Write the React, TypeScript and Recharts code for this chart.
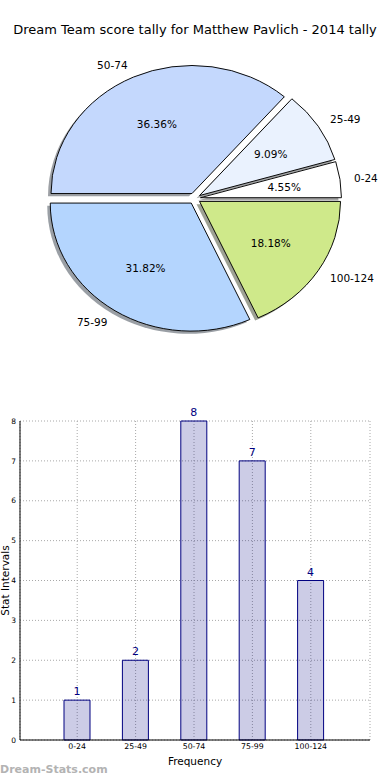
import {
  PieChart,
  Pie,
  Cell,
  BarChart,
  Bar,
  XAxis,
  YAxis,
  CartesianGrid,
  LabelList,
} from "recharts";

const categories = ["0-24", "25-49", "50-74", "75-99", "100-124"];
const counts = [1, 2, 8, 7, 4];
const sliceColors = ["#ffffff", "#eaf2fe", "#c4d8fd", "#b4d5fe", "#cfe98a"];
const yTicks = [0, 1, 2, 3, 4, 5, 6, 7, 8];

const FONT = "'DejaVu Sans', sans-serif";

// pie geometry (unscaled; the whole pie is squashed vertically like the matplotlib axes)
const SY = 0.908;
const CX = 194.5;
const CY = 218.6;
const R = 141;
const EXPLODE = 6;
const SHADOW = 3;

const total = counts.reduce((a, b) => a + b, 0);

const slices = (() => {
  let cum = 0;
  return categories.map((name, i) => {
    const start = (cum / total) * 360;
    cum += counts[i];
    const end = (cum / total) * 360;
    const mid = ((start + end) / 2) * (Math.PI / 180);
    return {
      name,
      value: counts[i],
      start,
      end,
      cx: CX + EXPLODE * Math.cos(mid),
      cy: CY - EXPLODE * Math.sin(mid),
      cos: Math.cos(mid),
      sin: Math.sin(mid),
    };
  });
})();

const barData = categories.map((c, i) => ({ name: c, count: counts[i] }));

function shade(hex: string) {
  const n = parseInt(hex.slice(1), 16);
  const r = Math.round(((n >> 16) & 255) * 0.3);
  const g = Math.round(((n >> 8) & 255) * 0.3);
  const b = Math.round((n & 255) * 0.3);
  return `rgb(${r},${g},${b})`;
}

function sliceLabel(i: number) {
  const s = slices[i];
  const lx = s.cx + 1.1 * R * s.cos;
  const ly = s.cy - 1.1 * R * s.sin;
  const px = s.cx + 0.6 * R * s.cos;
  const py = s.cy - 0.6 * R * s.sin;
  const pct = ((counts[i] / total) * 100).toFixed(2) + "%";
  return (
    <g>
      <g transform={`translate(${lx},${ly}) scale(1,${1 / SY})`}>
        <text
          x={0}
          y={0}
          textAnchor={s.cos > 0 ? "start" : "end"}
          dominantBaseline="central"
          fontSize={10.5}
          fontFamily={FONT}
          fill="#000"
        >
          {s.name}
        </text>
      </g>
      <g transform={`translate(${px},${py}) scale(1,${1 / SY})`}>
        <text
          x={0}
          y={0}
          textAnchor="middle"
          dominantBaseline="central"
          fontSize={10.5}
          fontFamily={FONT}
          fill="#000"
        >
          {pct}
        </text>
      </g>
    </g>
  );
}

export default function App() {
  return (
    <div
      style={{
        position: "absolute",
        left: 0,
        top: 0,
        width: 390,
        height: 780,
        background: "#fff",
        overflow: "hidden",
        fontFamily: FONT,
      }}
    >
      <div
        style={{
          position: "absolute",
          left: 0,
          top: 0,
          width: 390,
          height: 440,
          transform: `scaleY(${SY})`,
          transformOrigin: "0 0",
        }}
      >
        <PieChart width={390} height={440} margin={{ top: 0, right: 0, bottom: 0, left: 0 }}>
          {slices.map((s, i) => (
            <Pie
              key={"shadow-" + s.name}
              data={[s]}
              dataKey="value"
              cx={s.cx - SHADOW}
              cy={s.cy + SHADOW}
              outerRadius={R}
              startAngle={s.start}
              endAngle={s.end}
              stroke="none"
              isAnimationActive={false}
            >
              <Cell fill={shade(sliceColors[i])} fillOpacity={0.5} />
            </Pie>
          ))}
          {slices.map((s, i) => (
            <Pie
              key={s.name}
              data={[s]}
              dataKey="value"
              cx={s.cx}
              cy={s.cy}
              outerRadius={R}
              startAngle={s.start}
              endAngle={s.end}
              stroke="#000"
              strokeWidth={1}
              label={() => sliceLabel(i)}
              labelLine={false}
              isAnimationActive={false}
            >
              <Cell fill={sliceColors[i]} />
            </Pie>
          ))}
        </PieChart>
      </div>

      <div
        style={{
          position: "absolute",
          left: 0,
          top: 22,
          width: 390,
          textAlign: "center",
          fontSize: 13,
          lineHeight: "16px",
          color: "#000",
        }}
      >
        Dream Team score tally for Matthew Pavlich - 2014 tally
      </div>

      <div style={{ position: "absolute", left: 0, top: 400 }}>
        <BarChart
          width={390}
          height={380}
          data={barData}
          margin={{ top: 21, right: 20, bottom: 10, left: 0 }}
        >
          <CartesianGrid stroke="#a8a8a8" strokeDasharray="1 2" strokeWidth={1} />
          <XAxis
            dataKey="name"
            height={30}
            padding={{ left: 28, right: 30 }}
            tickLine={false}
            tickSize={0}
            tickMargin={3}
            axisLine={{ stroke: "#000" }}
            tick={{ fontSize: 7.8, fill: "#000", fontFamily: FONT }}
            label={{
              value: "Frequency",
              position: "insideBottom",
              offset: 5,
              fontSize: 10.5,
              fill: "#000",
              fontFamily: FONT,
            }}
          />
          <XAxis
            xAxisId="top"
            dataKey="name"
            orientation="top"
            height={0}
            padding={{ left: 28, right: 30 }}
            tick={false}
            tickLine={false}
            axisLine={{ stroke: "#000" }}
          />
          <YAxis
            width={20}
            domain={[0, 8]}
            ticks={yTicks}
            interval={0}
            tickLine={false}
            tickSize={0}
            tickMargin={4}
            axisLine={{ stroke: "#000" }}
            tick={{ fontSize: 7.5, fill: "#000", fontFamily: FONT }}
            label={{
              value: "Stat Intervals",
              angle: -90,
              position: "insideLeft",
              offset: 5,
              fontSize: 10.5,
              fill: "#000",
              fontFamily: FONT,
              style: { textAnchor: "middle" },
            }}
          />
          <YAxis
            yAxisId="right"
            orientation="right"
            width={0}
            domain={[0, 8]}
            tick={false}
            tickLine={false}
            axisLine={{ stroke: "#000" }}
          />
          <Bar
            dataKey="count"
            barSize={26}
            fill="#000080"
            fillOpacity={0.2}
            stroke="#000080"
            strokeWidth={1}
            isAnimationActive={false}
          >
            <LabelList
              dataKey="count"
              position="top"
              offset={5}
              fill="#000080"
              fontSize={11}
              fontFamily={FONT}
            />
          </Bar>
        </BarChart>
      </div>

      <div
        style={{
          position: "absolute",
          left: 0,
          top: 762,
          fontSize: 11,
          fontWeight: "bold",
          lineHeight: "16px",
          color: "#b3b3b3",
        }}
      >
        Dream-Stats.com
      </div>
    </div>
  );
}
